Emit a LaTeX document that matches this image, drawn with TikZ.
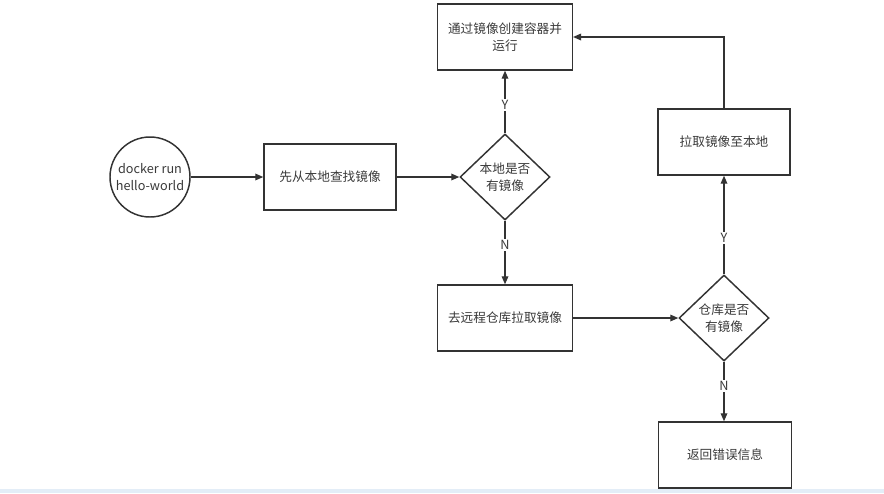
\documentclass[tikz,border=0pt]{standalone}
\usepackage{fontspec}
\setmainfont{Noto Sans CJK SC}
\usetikzlibrary{shapes.geometric,arrows.meta}
\definecolor{ln}{HTML}{333333}
\definecolor{tx}{HTML}{3A3A3A}
\definecolor{band}{HTML}{E3EDF7}
\tikzset{
  base/.style={draw=ln, line width=1.1pt, fill=white, text=tx, font=\fontsize{9.5}{13}\selectfont, align=center, inner sep=2pt},
  box/.style={base, rectangle, minimum width=99pt, minimum height=49.5pt},
  dia/.style={base, diamond, minimum width=67.5pt, minimum height=64.5pt, inner sep=0pt},
  circ/.style={base, circle, minimum size=60pt, inner sep=0pt},
  conn/.style={draw=ln, line width=0.9pt, -{Triangle[length=6pt,width=5pt]}},
  lab/.style={fill=white, text=tx, font=\fontsize{9.5}{11}\selectfont, inner sep=1pt}
}
\begin{document}
\begin{tikzpicture}[x=0.75pt, y=-0.75pt]
\useasboundingbox (0,0) rectangle (884,493);
\fill[band] (0,489) rectangle (884,493);

\node[circ] (start) at (150,177) {docker run\\hello-world};
\node[box] (find) at (330,177) {先从本地查找镜像};
\node[dia] (d1) at (505,177) {本地是否\\有镜像};
\node[box, minimum width=101pt] (run) at (505,37) {通过镜像创建容器并\\运行};
\node[box, minimum width=101pt] (remote) at (505,318) {去远程仓库拉取镜像};
\node[dia] (d2) at (724,318) {仓库是否\\有镜像};
\node[box] (pull) at (724,142) {拉取镜像至本地};
\node[box, minimum width=100pt] (err) at (725,455) {返回错误信息};

\draw[conn] (start) -- (find);
\draw[conn] (find) -- (d1);
\draw[conn] (d1) -- node[lab, pos=0.45] {Y} (run);
\draw[conn] (d1) -- node[lab, pos=0.38] {N} (remote);
\draw[conn] (remote) -- (d2);
\draw[conn] (d2) -- node[lab, pos=0.37] {Y} (pull);
\draw[conn] (d2.south) -- node[lab, pos=0.4] {N} (err.north -| d2.south);
\draw[conn] (pull.north) |- (run.east);
\end{tikzpicture}
\end{document}
